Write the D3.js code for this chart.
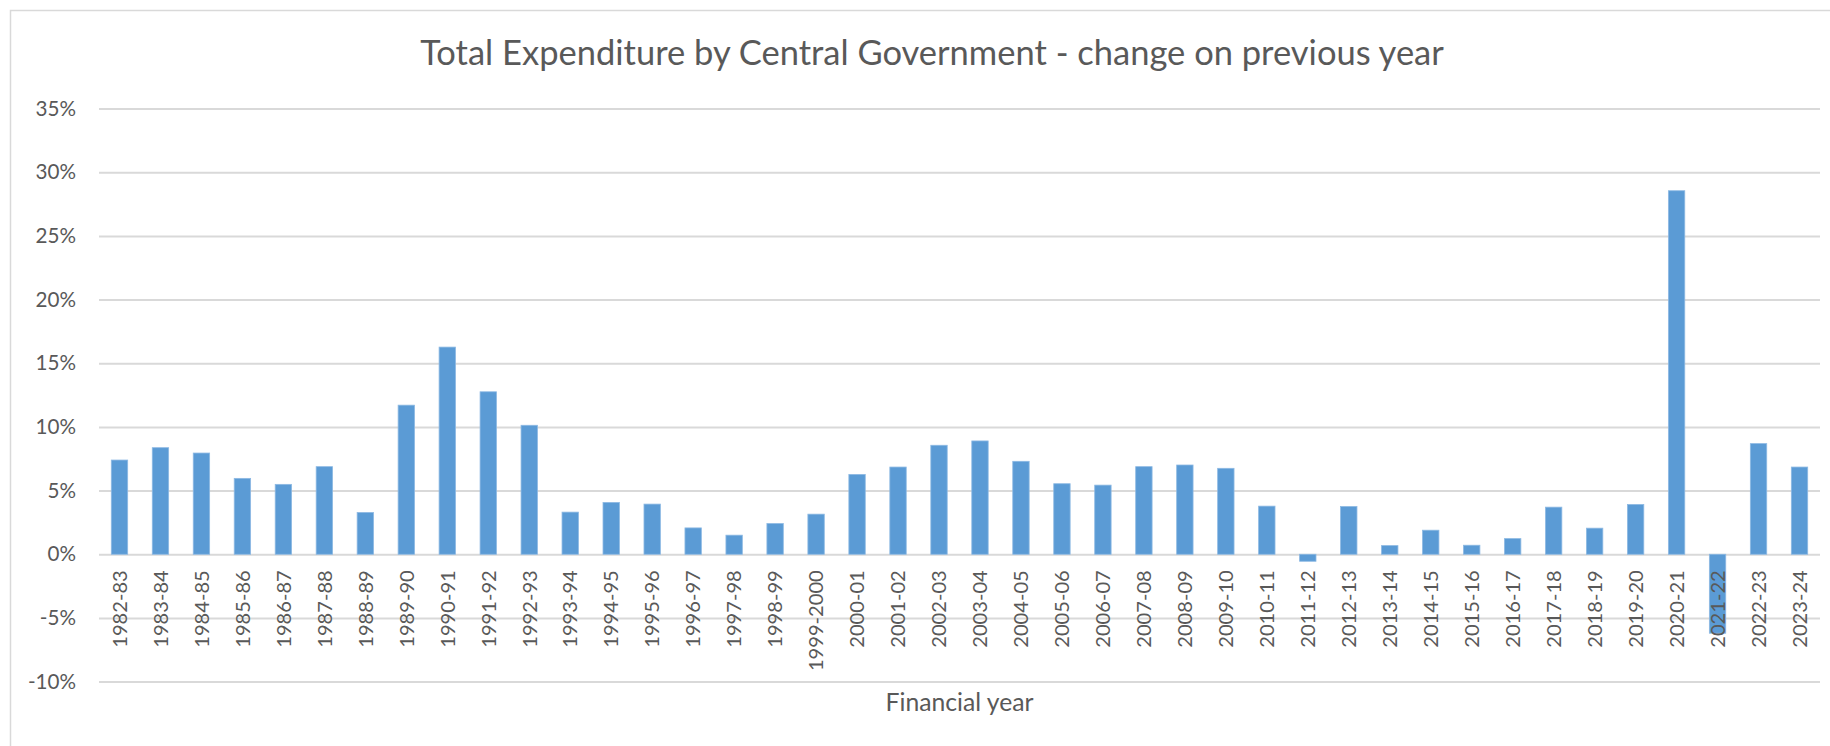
<!DOCTYPE html>
<html>
<head>
<meta charset="utf-8">
<script src="https://cdn.jsdelivr.net/npm/d3@7"></script>
<style>
  html, body { margin: 0; padding: 0; background: #fff; }
  svg { display: block; font-family: Lato, "Open Sans", sans-serif; }
</style>
</head>
<body>
<svg id="chart" width="1830" height="746"></svg>
<script>
// Financial years (x categories)
const years = [
  "1982-83","1983-84","1984-85","1985-86","1986-87","1987-88","1988-89","1989-90",
  "1990-91","1991-92","1992-93","1993-94","1994-95","1995-96","1996-97","1997-98",
  "1998-99","1999-2000","2000-01","2001-02","2002-03","2003-04","2004-05","2005-06",
  "2006-07","2007-08","2008-09","2009-10","2010-11","2011-12","2012-13","2013-14",
  "2014-15","2015-16","2016-17","2017-18","2018-19","2019-20","2020-21","2021-22",
  "2022-23","2023-24"
];

// Change in total central government expenditure on previous year (%)
const changePct = [
  7.4, 8.37, 7.95, 5.96, 5.49, 6.88, 3.28, 11.71,
  16.27, 12.76, 10.13, 3.31, 4.07, 3.94, 2.07, 1.5,
  2.41, 3.15, 6.27, 6.85, 8.56, 8.9, 7.3, 5.54,
  5.43, 6.88, 7.01, 6.75, 3.78, -0.55, 3.75, 0.68,
  1.89, 0.71, 1.23, 3.7, 2.05, 3.91, 28.55, -6.2,
  8.69, 6.85
];

// Y axis ticks (%)
const yTicks = [-10, -5, 0, 5, 10, 15, 20, 25, 30, 35];

const titleText = "Total Expenditure by Central Government - change on previous year";
const xAxisTitle = "Financial year";

const W = 1830, H = 746;
const plot = { left: 99, right: 1820, top: 108.6, bottom: 681.6 };
const textColor = "#595959";
const gridColor = "#D9D9D9";
const barColor = "#5B9BD5";

const svg = d3.select("#chart");

// scale a text element's font size so that it spans the given width
function fitWidth(sel, targetWidth) {
  const node = sel.node();
  const base = 100;
  sel.attr("font-size", base);
  const w = node.getComputedTextLength();
  sel.attr("font-size", (base * targetWidth / w).toFixed(2));
  return base * targetWidth / w;
}

// chart area frame (extends past the right and bottom edge)
svg.append("rect")
  .attr("x", 10.5).attr("y", 10.5)
  .attr("width", 1860).attr("height", 780)
  .attr("fill", "#fff")
  .attr("stroke", gridColor)
  .attr("stroke-width", 1.5);

const x = d3.scaleBand()
  .domain(years)
  .range([plot.left, plot.right])
  .paddingInner(0.6)
  .paddingOuter(0.3);

const y = d3.scaleLinear()
  .domain([-10, 35])
  .range([plot.bottom, plot.top]);

// horizontal gridlines + y tick labels
const yAxis = d3.axisLeft(y)
  .tickValues(yTicks)
  .tickSize(-(plot.right - plot.left))
  .tickPadding(23)
  .tickFormat(d => d + "%");

const gY = svg.append("g")
  .attr("transform", `translate(${plot.left},0)`)
  .call(yAxis);
gY.select(".domain").remove();
gY.selectAll(".tick line")
  .attr("stroke", gridColor)
  .attr("stroke-width", 2);
const yLabels = gY.selectAll(".tick text")
  .attr("fill", textColor)
  .attr("font-family", "Lato, sans-serif");
// size tick labels from the width of the "35%" label
const tickSize = fitWidth(yLabels.filter(d => d === 35), 40.5);
yLabels.attr("font-size", tickSize);

// bars
svg.append("g")
  .selectAll("rect")
  .data(years.map((yr, i) => ({ yr, v: changePct[i] })))
  .join("rect")
  .attr("x", d => x(d.yr))
  .attr("width", x.bandwidth())
  .attr("y", d => y(Math.max(0, d.v)))
  .attr("height", d => Math.abs(y(d.v) - y(0)))
  .attr("fill", barColor)
  .attr("stroke", "#8DB9E3")
  .attr("stroke-width", 0.8);

// category labels, rotated
const xAxis = d3.axisBottom(x).tickSize(0).tickPadding(0);
const gX = svg.append("g")
  .attr("transform", `translate(0,${y(0)})`)
  .call(xAxis);
gX.select(".domain").remove();
const xLabels = gX.selectAll(".tick text")
  .attr("fill", textColor)
  .attr("font-family", "Lato, sans-serif")
  .attr("text-anchor", "end")
  .attr("transform", "rotate(-90)")
  .attr("x", -16)
  .attr("y", 0)
  .attr("dy", "0.36em");
const xTickSize = fitWidth(xLabels.filter(d => d === "1982-83"), 77.5);
xLabels.attr("font-size", xTickSize);

// chart title
const title = svg.append("text")
  .attr("x", 932)
  .attr("y", 65)
  .attr("text-anchor", "middle")
  .attr("fill", textColor)
  .text(titleText);
fitWidth(title, 1024);

// x axis title
const xt = svg.append("text")
  .attr("x", (plot.left + plot.right) / 2)
  .attr("y", 711)
  .attr("text-anchor", "middle")
  .attr("fill", textColor)
  .text(xAxisTitle);
fitWidth(xt, 148);
</script>
</body>
</html>
